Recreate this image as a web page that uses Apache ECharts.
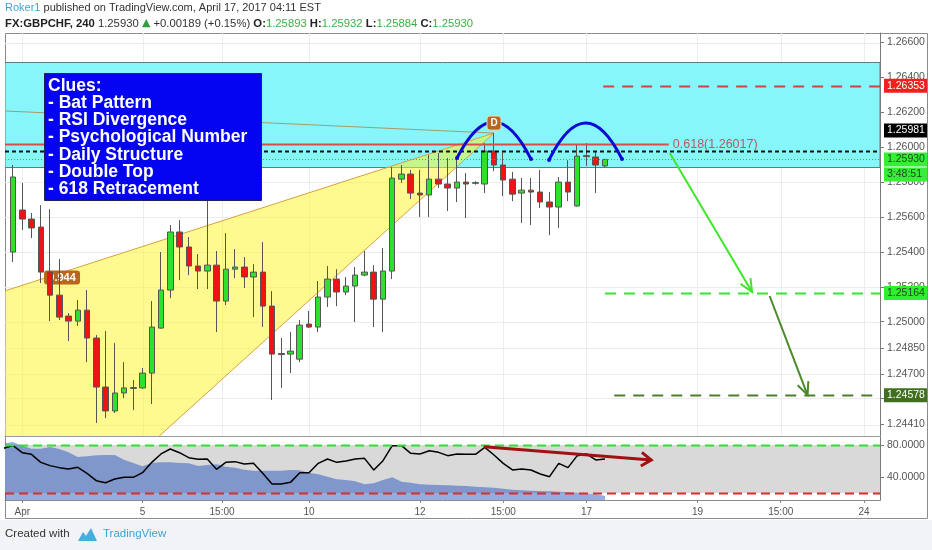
<!DOCTYPE html>
<html>
<head>
<meta charset="utf-8">
<title>GBPCHF 240</title>
<script src="https://cdn.jsdelivr.net/npm/echarts@6.0.0/dist/echarts.min.js"></script>
<style>
html,body{margin:0;padding:0;background:#ffffff;}
#chart{width:932px;height:550px;}
</style>
</head>
<body>
<div id="chart"></div>
<script>
// ---------------- data ----------------
const opens  = [1.25399,1.25640,1.25588,1.25542,1.25284,1.25152,1.25032,1.25003,1.25066,1.24906,
                1.24625,1.24488,1.24591,1.24617,1.24620,1.24705,1.24963,1.25181,1.25514,1.25428,
                1.25319,1.25290,1.25324,1.25118,1.25301,1.25313,1.25256,1.25284,1.25089,1.24817,
                1.24814,1.24785,1.24986,1.24969,1.25141,1.25244,1.25170,1.25204,1.25267,1.25284,
                1.25129,1.25290,1.25817,1.25846,1.25737,1.25726,1.25817,1.25789,1.25766,1.25800,
                1.25793,1.25789,1.25978,1.25898,1.25817,1.25737,1.25754,1.25743,1.25686,1.25657,
                1.25800,1.25663,1.25946,1.25944,1.25893];
const highs  = [1.25898,1.25795,1.25623,1.25668,1.25645,1.25359,1.25049,1.25124,1.25181,1.24923,
                1.24946,1.24877,1.24768,1.24665,1.24734,1.25118,1.25399,1.25554,1.25582,1.25485,
                1.25387,1.25760,1.25405,1.25508,1.25416,1.25370,1.25330,1.25456,1.25175,1.24906,
                1.24940,1.25009,1.25061,1.25233,1.25319,1.25301,1.25256,1.25313,1.25405,1.25324,
                1.25422,1.25886,1.25898,1.25869,1.25869,1.25955,1.25967,1.25938,1.25949,1.25852,
                1.25805,1.26024,1.26081,1.25972,1.25858,1.25823,1.25823,1.25869,1.25743,1.25829,
                1.25926,1.26013,1.26024,1.25972,1.25932];
const lows   = [1.25342,1.25525,1.25479,1.25221,1.25003,1.25009,1.24889,1.24975,1.24768,1.24419,
                1.24447,1.24476,1.24562,1.24493,1.24614,1.24528,1.24960,1.25135,1.25238,1.25267,
                1.25187,1.25187,1.24940,1.25095,1.25250,1.25193,1.25026,1.24969,1.24551,1.24620,
                1.24705,1.24768,1.24963,1.24940,1.25084,1.25089,1.25152,1.24998,1.25261,1.24969,
                1.24940,1.25244,1.25795,1.25703,1.25600,1.25600,1.25766,1.25634,1.25686,1.25594,
                1.25785,1.25737,1.25863,1.25720,1.25691,1.25565,1.25554,1.25651,1.25496,1.25537,
                1.25691,1.25660,1.25892,1.25737,1.25884];
const closes = [1.25829,1.25588,1.25537,1.25284,1.25152,1.25026,1.25003,1.25066,1.24906,1.24625,
                1.24488,1.24591,1.24620,1.24622,1.24705,1.24969,1.25181,1.25514,1.25428,1.25319,
                1.25290,1.25324,1.25118,1.25301,1.25313,1.25256,1.25284,1.25089,1.24814,1.24811,
                1.24831,1.24980,1.24969,1.25141,1.25244,1.25170,1.25204,1.25267,1.25284,1.25129,
                1.25290,1.25823,1.25846,1.25737,1.25726,1.25817,1.25789,1.25766,1.25800,1.25789,
                1.25797,1.25978,1.25898,1.25812,1.25731,1.25754,1.25743,1.25686,1.25657,1.25800,
                1.25743,1.25949,1.25952,1.25898,1.25930];

const rsiFirstIndex = -1;
const rsiValues = [76,79.2,70.4,68.3,58.3,54.2,51.7,50.0,52.1,44.6,35.4,32.9,37.5,39.6,39.6,45.4,
                   58.3,68.8,75.0,70.4,64.2,62.1,62.5,49.6,58.3,59.2,56.3,57.1,44.6,31.3,31.3,33.3,
                   45.4,45.4,57.1,62.5,58.3,60.0,62.5,63.3,48.8,60.4,79.2,79.2,69.6,68.8,72.9,70.8,
                   66.7,68.8,68.3,68.3,77.1,67.5,57.1,48.8,50.0,48.8,43.8,40.4,57.1,51.7,66.7,68.8,
                   61.3,62.5];
const rsiShadeValues = [82,83.75,79.2,75.4,75.4,77.5,75,70.8,65,65.8,67.1,67.5,67.5,61.7,57.5,53.3,
                   57.5,58.3,58.3,57.5,57.1,53.75,55,55.8,52.9,51.7,49.2,47.9,47.9,47.9,47.9,48.75,
                   48.3,45.4,43.3,40.4,37.1,36.25,34.6,30.8,32.1,36.25,39.6,34.2,32.9,30.8,30.4,30,
                   29.6,29.2,28.75,27.9,27.1,26.7,25.4,24.2,23.3,22.9,22.5,22.1,21.7,20.8,20.4,19.6,
                   18.75,16.25];

const timeTickIndex  = [1, 14, 22.6, 32, 44, 53, 62, 74, 83, 92];
const timeTickLabels = ['Apr', '5', '15:00', '10', '12', '15:00', '17', '19', '15:00', '24'];
const priceTicks = [1.266, 1.264, 1.262, 1.26, 1.258, 1.256, 1.254, 1.252, 1.25, 1.2485, 1.247, 1.2456, 1.2441];
const rsiTicks = [80, 40];
const rsiUpper = 80, rsiLower = 20;

// drawn levels / annotations (values in chart units: bar index, price)
const fibText = '0.618(1.26017)', fibPrice = 1.26017, fibEnd = 70.9;
const resistancePrice = 1.26353, resistanceStart = 63.8;
const dailyPrice = 1.25981;
const lastPrice = 1.25930;
const countdown = '3:48:51';
const target1Price = 1.25164, target1Start = 64;
const target2Price = 1.24578, target2Start = 65;
const zoneTop = 1.26491, zoneBottom = 1.25889;
const patternD = [52, 1.26081];
const wedgeUpperStart = [-1, 1.25174];
const wedgeLowerStart = [-1, 1.23537];
const xdStart = [-1, 1.26208];
const ratioText = '0.944', ratioAt = [5.3, 1.25253];
const topArcs = [
  {from: [48, 1.25938], to: [56, 1.25932], peak: 1.26145},
  {from: [57.95, 1.25927], to: [65.84, 1.25932], peak: 1.26139}
];
const arrowA = {from: [71.0, 1.25967], to: [79.9, 1.25170]};
const arrowB = {from: [81.8, 1.25147], to: [85.9, 1.24579]};
const rsiArrow = {from: [50.9, 77.9], to: [69, 61.3]};
const clueLines = ['Clues:', '- Bat Pattern', '- RSI Divergence', '- Psychological Number',
                   '- Daily Structure', '- Double Top', '- 618 Retracement'];
const clueTopLeft = [3.35, 1.26426], clueBottomRight = [26.81, 1.25697];

// ---------------- chart ----------------
const X_MIN = -0.865, X_MAX = 93.73;
const P_MIN = 1.243444, P_MAX = 1.266548;
const R_MIN = 11.25, R_MAX = 90;
const FONT = '"Liberation Sans", Arial, sans-serif';

const candleData = opens.map((o, i) => [i, o, closes[i], lows[i], highs[i]]);
const rsiData = rsiValues.map((v, k) => [k + rsiFirstIndex, v]);
const shadeData = rsiShadeValues.map((v, k) => [k + rsiFirstIndex, v]);

function head(tip, from, len, ang) {
  const dx = from[0] - tip[0], dy = from[1] - tip[1];
  const L = Math.hypot(dx, dy), ux = dx / L, uy = dy / L;
  const rot = a => [tip[0] + len * (ux * Math.cos(a) - uy * Math.sin(a)),
                    tip[1] + len * (ux * Math.sin(a) + uy * Math.cos(a))];
  return [rot(ang), tip, rot(-ang)];
}
function hline(P, cs, price, x0, x1, style) {
  const y = Math.round(P(0, price)[1]) + 0.5;
  const a = x0 == null ? cs.x : P(x0, price)[0];
  const b = x1 == null ? cs.x + cs.width : P(x1, price)[0];
  return {type: 'line', shape: {x1: a, y1: y, x2: b, y2: y}, style: Object.assign({fill: null}, style)};
}

const chart = echarts.init(document.getElementById('chart'), null, {renderer: 'canvas'});

const option = {
  animation: false,
  backgroundColor: '#ffffff',
  grid: [
    {left: 5, right: 52, top: 33, height: 403},
    {left: 5, right: 52, top: 437, height: 63}
  ],
  xAxis: [
    {gridIndex: 0, type: 'value', min: X_MIN, max: X_MAX,
     axisLine: {show: true, onZero: false, lineStyle: {color: '#9a9a9a'}},
     axisTick: {show: false}, axisLabel: {show: false}, splitLine: {show: false}},
    {gridIndex: 1, type: 'value', min: X_MIN, max: X_MAX,
     axisLine: {show: true, onZero: false, lineStyle: {color: '#8a8a8a'}},
     axisTick: {show: true, customValues: timeTickIndex, length: 3, lineStyle: {color: '#8a8a8a'}},
     axisLabel: {customValues: timeTickIndex, color: '#555', fontSize: 10, fontFamily: FONT, margin: 7,
       formatter: v => { const k = timeTickIndex.findIndex(t => Math.abs(t - v) < 1e-6); return k >= 0 ? timeTickLabels[k] : ''; }},
     splitLine: {show: false}}
  ],
  yAxis: [
    {gridIndex: 0, type: 'value', position: 'right', min: P_MIN, max: P_MAX,
     axisLine: {show: true, onZero: false, lineStyle: {color: '#7a7a7a'}},
     axisTick: {show: true, customValues: priceTicks, length: 4, lineStyle: {color: '#7a7a7a'}},
     axisLabel: {customValues: priceTicks, formatter: v => v.toFixed(5), color: '#555', fontSize: 10.5, fontFamily: FONT, margin: 7},
     splitLine: {show: false}},
    {gridIndex: 1, type: 'value', position: 'right', min: R_MIN, max: R_MAX,
     axisLine: {show: true, onZero: false, lineStyle: {color: '#7a7a7a'}},
     axisTick: {show: true, customValues: rsiTicks, length: 4, lineStyle: {color: '#7a7a7a'}},
     axisLabel: {customValues: rsiTicks, formatter: v => v.toFixed(4), color: '#555', fontSize: 10.5, fontFamily: FONT, margin: 7},
     splitLine: {show: false}}
  ],
  graphic: [
    {type: 'rect', z: 0, shape: {x: 5.5, y: 33.5, width: 922, height: 485}, style: {fill: '#ffffff', stroke: '#8c8c8c', lineWidth: 1}},
    {type: 'rect', z: 0, shape: {x: 0, y: 520, width: 932, height: 30}, style: {fill: '#f1f3f6'}},
    {type: 'text', z: 100, left: 5, top: 2, style: {
      text: '{a|Roker1}{b| published on TradingView.com, April 17, 2017 04:11 EST}',
      rich: {a: {fill: '#3ba4d8', fontSize: 11, fontFamily: FONT}, b: {fill: '#333', fontSize: 11, fontFamily: FONT}}}},
    {type: 'text', z: 100, left: 5, top: 18, style: {
      text: '{k|FX:GBPCHF, 240}{n| 1.25930 }{u|▲}{n| +0.00189 (+0.15%) }{k|O:}{g|1.25893}{n| }{k|H:}{g|1.25932}{n| }{k|L:}{g|1.25884}{n| }{k|C:}{g|1.25930}',
      rich: {k: {fill: '#222', fontSize: 11.3, fontWeight: 'bold', fontFamily: FONT},
             n: {fill: '#333', fontSize: 11.3, fontFamily: FONT},
             u: {fill: '#2e9e3e', fontSize: 11, fontFamily: '"DejaVu Sans", sans-serif'},
             g: {fill: '#3cb043', fontSize: 11.3, fontFamily: FONT}}}},
    {type: 'text', z: 100, left: 5, top: 528, style: {text: 'Created with', fill: '#333', fontSize: 11.5, fontFamily: FONT}},
    {type: 'polygon', z: 100, shape: {points: [[78, 541], [83, 532], [86, 536], [91, 528], [97, 541]]}, style: {fill: '#45b0e0'}},
    {type: 'text', z: 100, left: 103, top: 528, style: {text: 'TradingView', fill: '#3ba4d8', fontSize: 11.5, fontFamily: FONT}}
  ],
  series: [
    // background drawings (under candles)
    {type: 'custom', xAxisIndex: 0, yAxisIndex: 0, z: 1, clip: true, silent: true, data: [[0, 1.25]],
     renderItem: (params, api) => {
       const P = (x, y) => api.coord([x, y]);
       const cs = params.coordSys;
       const ch = [];
       timeTickIndex.forEach(t => {
         const x = Math.round(P(t, P_MIN)[0]) + 0.5;
         ch.push({type: 'line', shape: {x1: x, y1: cs.y, x2: x, y2: cs.y + cs.height}, style: {stroke: '#ececec', lineWidth: 1}});
       });
       priceTicks.forEach(v => ch.push(hline(P, cs, v, null, null, {stroke: '#ececec', lineWidth: 1})));
       const a = P(X_MIN, zoneTop), b = P(X_MAX, zoneBottom);
       ch.push({type: 'rect', shape: {x: a[0], y: Math.round(a[1]) + 0.5, width: b[0] - a[0], height: Math.round(b[1] - a[1])},
                style: {fill: '#86f6fb', stroke: '#5a7f86', lineWidth: 1}});
       const u = P(...wedgeUpperStart), d = P(...patternD), l = P(...wedgeLowerStart), x = P(...xdStart);
       ch.push({type: 'polygon', shape: {points: [u, d, l]}, style: {fill: 'rgba(255,246,40,0.52)'}});
       ch.push({type: 'line', shape: {x1: u[0], y1: u[1], x2: d[0], y2: d[1]}, style: {stroke: '#d9a03e', lineWidth: 1}});
       ch.push({type: 'line', shape: {x1: l[0], y1: l[1], x2: d[0], y2: d[1]}, style: {stroke: '#d9a03e', lineWidth: 1}});
       ch.push({type: 'line', shape: {x1: x[0], y1: x[1], x2: d[0], y2: d[1]}, style: {stroke: '#a89a6a', lineWidth: 1}});
       const r = P(...ratioAt);
       ch.push({type: 'rect', shape: {x: r[0] - 18, y: r[1] - 7, width: 36, height: 14, r: 3}, style: {fill: '#b8651d'}});
       ch.push({type: 'text', style: {text: ratioText, x: r[0], y: r[1], align: 'center', verticalAlign: 'middle',
                fill: '#ffffff', font: 'bold 11px ' + FONT}});
       return {type: 'group', children: ch};
     }},
    // candles
    {type: 'candlestick', xAxisIndex: 0, yAxisIndex: 0, z: 2, barWidth: 6,
     encode: {x: 0, y: [1, 2, 3, 4]}, data: candleData,
     itemStyle: {color: '#2fe02f', color0: '#ee1414', borderColor: '#555555', borderColor0: '#555555', borderWidth: 1}},
    // foreground drawings
    {type: 'custom', xAxisIndex: 0, yAxisIndex: 0, z: 5, clip: true, silent: true, data: [[0, 1.25]],
     renderItem: (params, api) => {
       const P = (x, y) => api.coord([x, y]);
       const cs = params.coordSys;
       const ch = [];
       ch.push(hline(P, cs, lastPrice, null, null, {stroke: '#22cc22', lineWidth: 1, lineDash: [1, 2]}));
       ch.push(hline(P, cs, dailyPrice, null, null, {stroke: '#111111', lineWidth: 2, lineDash: [4, 3]}));
       ch.push(hline(P, cs, fibPrice, null, fibEnd, {stroke: '#dd4b4b', lineWidth: 2}));
       const f = P(fibEnd, fibPrice);
       ch.push({type: 'text', style: {text: fibText, x: f[0] + 4, y: f[1], align: 'left', verticalAlign: 'middle',
                fill: '#b35c5c', font: '12.5px ' + FONT}});
       ch.push(hline(P, cs, resistancePrice, resistanceStart, null, {stroke: '#cc4444', lineWidth: 2, lineDash: [11, 8]}));
       ch.push(hline(P, cs, target1Price, target1Start, null, {stroke: '#33e633', lineWidth: 2, lineDash: [11, 8]}));
       ch.push(hline(P, cs, target2Price, target2Start, null, {stroke: '#4c7f2c', lineWidth: 2, lineDash: [11, 8]}));
       topArcs.forEach(arc => {
         const s = P(...arc.from), e = P(...arc.to), py = P(arc.from[0], arc.peak)[1];
         const by = (s[1] + e[1]) / 2;
         ch.push({type: 'bezierCurve', shape: {x1: s[0], y1: s[1], x2: e[0], y2: e[1], cpx1: (s[0] + e[0]) / 2, cpy1: 2 * py - by},
                  style: {stroke: '#0a0ad8', lineWidth: 3, fill: null}});
         ch.push({type: 'circle', shape: {cx: s[0], cy: s[1], r: 2}, style: {fill: '#0a0ad8'}});
         ch.push({type: 'circle', shape: {cx: e[0], cy: e[1], r: 2}, style: {fill: '#0a0ad8'}});
       });
       [[arrowA, '#3ee62a'], [arrowB, '#4a8a2a']].forEach(([ar, col]) => {
         const s = P(...ar.from), e = P(...ar.to);
         ch.push({type: 'line', shape: {x1: s[0], y1: s[1], x2: e[0], y2: e[1]}, style: {stroke: col, lineWidth: 2}});
         ch.push({type: 'polyline', shape: {points: head(e, s, 14, 0.42)}, style: {stroke: col, lineWidth: 2, fill: null}});
       });
       const d = P(...patternD);
       ch.push({type: 'rect', shape: {x: d[0] - 7, y: d[1] - 17, width: 14, height: 14, r: 3}, style: {fill: '#b8651d', stroke: '#f2d0a8', lineWidth: 1}});
       ch.push({type: 'text', style: {text: 'D', x: d[0], y: d[1] - 10, align: 'center', verticalAlign: 'middle', fill: '#ffffff', font: 'bold 10px ' + FONT}});
       const tl = P(...clueTopLeft), br = P(...clueBottomRight);
       ch.push({type: 'rect', shape: {x: Math.round(tl[0]) + 0.5, y: Math.round(tl[1]) + 0.5, width: Math.round(br[0] - tl[0]), height: Math.round(br[1] - tl[1])},
                style: {fill: '#0404f2', stroke: '#20205a', lineWidth: 1}});
       clueLines.forEach((t, k) => {
         ch.push({type: 'text', style: {text: t, x: tl[0] + 4, y: tl[1] + 13 + k * 17.2, align: 'left', verticalAlign: 'middle',
                  fill: '#ffffff', font: 'bold 17.5px ' + FONT}});
       });
       return {type: 'group', children: ch};
     }},
    // price-scale tags
    {type: 'custom', xAxisIndex: 0, yAxisIndex: 0, z: 10, clip: false, silent: true, data: [[0, 1.25]],
     renderItem: (params, api) => {
       const P = (x, y) => api.coord([x, y]);
       const cs = params.coordSys;
       const x0 = cs.x + cs.width + 4;
       const tags = [
         {price: resistancePrice, text: resistancePrice.toFixed(5), bg: '#f51e1e', fg: '#ffffff', dy: 0},
         {price: dailyPrice, text: dailyPrice.toFixed(5), bg: '#000000', fg: '#ffffff', dy: -20},
         {price: lastPrice, text: lastPrice.toFixed(5), bg: '#35ee35', fg: '#1e4a1e', dy: 0},
         {price: lastPrice, text: countdown, bg: '#35ee35', fg: '#1e4a1e', dy: 15},
         {price: target1Price, text: target1Price.toFixed(5), bg: '#2ef02e', fg: '#1e4a1e', dy: 0},
         {price: target2Price, text: target2Price.toFixed(5), bg: '#3f6f1f', fg: '#ffffff', dy: 0}
       ];
       const ch = [];
       tags.forEach(t => {
         const y = P(0, t.price)[1] + t.dy;
         ch.push({type: 'rect', shape: {x: x0, y: y - 7, width: 43, height: 14}, style: {fill: t.bg}});
         ch.push({type: 'text', style: {text: t.text, x: x0 + 3, y: y, align: 'left', verticalAlign: 'middle', fill: t.fg, font: '10.5px ' + FONT}});
       });
       return {type: 'group', children: ch};
     }},
    // RSI pane band
    {type: 'custom', xAxisIndex: 1, yAxisIndex: 1, z: 1, clip: true, silent: true, data: [[0, 50]],
     renderItem: (params, api) => {
       const a = api.coord([X_MIN, rsiUpper]), b = api.coord([X_MAX, rsiLower]);
       return {type: 'rect', shape: {x: a[0], y: a[1], width: b[0] - a[0], height: b[1] - a[1]}, style: {fill: '#d9d9d9'}};
     }},
    {type: 'line', xAxisIndex: 1, yAxisIndex: 1, z: 2, data: shadeData, showSymbol: false, symbol: 'none',
     lineStyle: {width: 0}, areaStyle: {color: 'rgba(20,72,185,0.65)', origin: 'start'}},
    {type: 'line', xAxisIndex: 1, yAxisIndex: 1, z: 3, data: rsiData, showSymbol: false, symbol: 'none',
     lineStyle: {color: '#000000', width: 1.5}},
    {type: 'custom', xAxisIndex: 1, yAxisIndex: 1, z: 4, clip: true, silent: true, data: [[0, 50]],
     renderItem: (params, api) => {
       const P = (x, y) => api.coord([x, y]);
       const cs = params.coordSys;
       const ch = [];
       ch.push(hline(P, cs, rsiUpper, null, null, {stroke: '#33dd33', lineWidth: 2, lineDash: [9, 5]}));
       ch.push(hline(P, cs, rsiLower, null, null, {stroke: '#e02b2b', lineWidth: 2, lineDash: [9, 5]}));
       const s = P(...rsiArrow.from), e = P(...rsiArrow.to);
       ch.push({type: 'line', shape: {x1: s[0], y1: s[1], x2: e[0], y2: e[1]}, style: {stroke: '#a01212', lineWidth: 3}});
       ch.push({type: 'polyline', shape: {points: head(e, s, 12, 0.6)}, style: {stroke: '#a01212', lineWidth: 3, fill: null}});
       return {type: 'group', children: ch};
     }}
  ]
};
chart.setOption(option);
</script>
</body>
</html>
